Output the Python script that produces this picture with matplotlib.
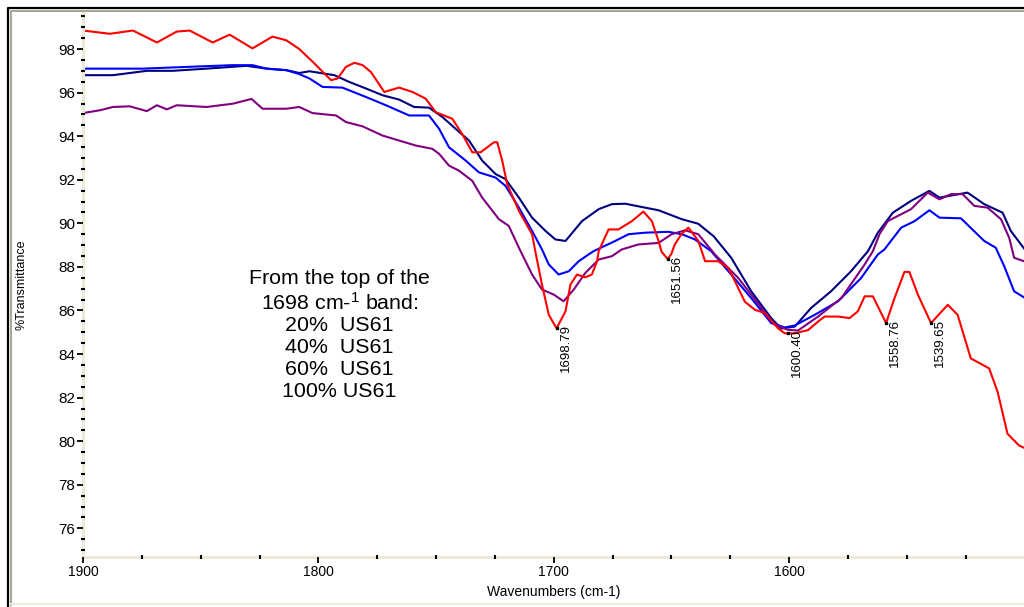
import numpy as np
import matplotlib.pyplot as plt
from matplotlib.ticker import MultipleLocator
from matplotlib.lines import Line2D

plt.rcParams['font.family'] = 'Liberation Sans'
plt.rcParams['mathtext.fontset'] = 'custom'
plt.rcParams['mathtext.rm'] = 'Liberation Sans'
plt.rcParams['mathtext.it'] = 'Liberation Sans:italic'

# spectra: wavenumber (cm-1) and %T
navy_wn = [1900, 1887.3, 1872.9, 1861.9, 1847.5, 1830.5, 1822.0, 1813.6, 1808.1, 1803.8,
           1793.2, 1786.9, 1779.8, 1772.8, 1765.7, 1759.3, 1753.0, 1747.3, 1741.7, 1736.0,
           1730.4, 1724.7, 1720.5, 1714.8, 1709.2, 1703.5, 1699.3, 1695.0, 1688.0, 1680.9,
           1675.3, 1669.6, 1661.2, 1655.5, 1645.6, 1638.6, 1632.0, 1624.6, 1616.1, 1607.6,
           1603.4, 1597.6, 1590.7, 1582.2, 1573.7, 1566.5, 1562.3, 1555.9, 1548.2, 1540.4,
           1536.1, 1524.2, 1517.1, 1509.3, 1505.8, 1500.2]
navy_t = [96.8, 96.8, 97.0, 97.0, 97.1, 97.23, 97.1, 97.03, 96.9, 96.98,
          96.8, 96.49, 96.19, 95.88, 95.68, 95.34, 95.31, 94.88, 94.34, 93.8,
          92.88, 92.26, 92.03, 91.18, 90.26, 89.65, 89.26, 89.19, 90.1, 90.65,
          90.88, 90.9, 90.72, 90.6, 90.19, 89.98, 89.4, 88.42, 86.88, 85.65,
          85.17, 85.26, 86.11, 86.88, 87.8, 88.72, 89.57, 90.49, 91.03, 91.49,
          91.18, 91.41, 90.88, 90.49, 89.65, 88.85]

blue_wn = [1900, 1874.6, 1855.9, 1836.4, 1828.0, 1822.0, 1813.6, 1808.1, 1803.8, 1798.2,
           1789.8, 1779.8, 1771.3, 1761.4, 1753.0, 1748.7, 1744.5, 1737.4, 1731.8, 1724.7,
           1720.5, 1714.8, 1709.2, 1705.0, 1702.1, 1697.9, 1693.6, 1689.4, 1685.2, 1683.1,
           1673.9, 1668.2, 1661.2, 1651.3, 1645.6, 1640.0, 1633.1, 1624.6, 1616.1, 1607.6,
           1601.8, 1597.6, 1589.1, 1579.2, 1569.4, 1562.3, 1559.5, 1552.4, 1546.7, 1540.4,
           1536.1, 1527.0, 1517.1, 1512.2, 1508.6, 1504.4, 1500.2]
blue_t = [97.1, 97.1, 97.18, 97.26, 97.26, 97.1, 97.03, 96.85, 96.65, 96.26,
          96.23, 95.8, 95.42, 94.95, 94.95, 94.34, 93.49, 92.88, 92.34, 92.1,
          91.72, 90.72, 89.65, 88.8, 88.11, 87.65, 87.8, 88.26, 88.57, 88.72,
          89.19, 89.5, 89.57, 89.61, 89.5, 89.26, 88.72, 87.65, 86.57, 85.42,
          85.22, 85.31, 85.8, 86.42, 87.49, 88.57, 88.8, 89.8, 90.1, 90.6,
          90.26, 90.23, 89.19, 88.88, 88.03, 86.88, 86.6]

purple_wn = [1900, 1892.8, 1887.3, 1880.1, 1872.9, 1868.6, 1864.4, 1860.2, 1847.5, 1836.4,
             1828.4, 1823.7, 1813.6, 1808.1, 1802.5, 1792.5, 1788.3, 1781.2, 1772.8, 1765.7,
             1758.6, 1751.6, 1748.7, 1744.5, 1740.3, 1734.6, 1730.4, 1723.3, 1719.1, 1714.8,
             1709.2, 1705.0, 1700.0, 1695.8, 1691.5, 1686.6, 1680.9, 1675.3, 1671.1, 1664.0,
             1655.5, 1649.9, 1644.2, 1638.6, 1631.5, 1621.6, 1611.7, 1606.1, 1600.4, 1596.2,
             1587.7, 1577.8, 1567.9, 1564.4, 1561.6, 1558.1, 1548.2, 1541.1, 1536.1, 1531.2,
             1526.3, 1521.3, 1515.7, 1510.0, 1506.5, 1504.4, 1500.2]
purple_t = [95.06, 95.19, 95.34, 95.37, 95.15, 95.42, 95.23, 95.42, 95.34, 95.49,
            95.71, 95.26, 95.26, 95.34, 95.06, 94.95, 94.65, 94.45, 94.03, 93.8,
            93.57, 93.42, 93.19, 92.65, 92.42, 91.95, 91.18, 90.19, 89.88, 88.88,
            87.65, 86.96, 86.73, 86.42, 86.96, 87.72, 88.34, 88.49, 88.8, 89.03,
            89.1, 89.5, 89.68, 89.5, 88.57, 87.49, 86.11, 85.34, 85.11, 85.08,
            85.72, 86.57, 88.11, 88.72, 89.5, 90.1, 90.65, 91.41, 91.1, 91.34,
            91.34, 90.8, 90.72, 90.19, 89.34, 88.42, 88.26]

red_wn = [1900, 1888.6, 1878.8, 1868.6, 1860.2, 1854.7, 1844.9, 1837.7, 1828.0, 1819.5,
          1813.6, 1808.1, 1801.7, 1797.5, 1794.6, 1791.8, 1788.3, 1784.7, 1781.2, 1777.7,
          1772.0, 1765.7, 1760.0, 1754.4, 1750.1, 1743.1, 1738.9, 1734.6, 1731.1, 1725.4,
          1724.0, 1721.9, 1719.8, 1714.8, 1709.2, 1707.8, 1705.0, 1702.1, 1698.8, 1695.0,
          1692.9, 1690.1, 1686.6, 1683.8, 1681.6, 1680.9, 1676.7, 1672.5, 1666.8, 1661.9,
          1658.3, 1655.5, 1654.2, 1651.6, 1650.0, 1648.7, 1645.8, 1642.8, 1638.6, 1635.7,
          1630.1, 1625.8, 1623.0, 1618.8, 1614.5, 1610.3, 1604.7, 1601.8, 1597.6, 1591.9,
          1587.7, 1584.9, 1579.2, 1574.3, 1570.8, 1567.9, 1564.4, 1558.8, 1555.2, 1551.0,
          1548.9, 1545.3, 1539.7, 1532.6, 1528.4, 1522.8, 1515.0, 1511.4, 1507.2, 1502.3,
          1500.2]
red_t = [98.85, 98.7, 98.85, 98.3, 98.8, 98.85, 98.3, 98.66, 98.03, 98.57,
         98.4, 98.0, 97.34, 96.88, 96.57, 96.65, 97.18, 97.37, 97.26, 96.95,
         96.03, 96.23, 96.03, 95.72, 95.1, 94.8, 94.1, 93.26, 93.26, 93.72,
         93.72, 92.88, 91.8, 90.57, 89.5, 88.7, 87.19, 85.8, 85.18, 85.96,
         87.19, 87.65, 87.52, 87.65, 88.26, 88.72, 89.72, 89.72, 90.1, 90.54,
         90.1, 89.2, 88.7, 88.36, 88.6, 89.0, 89.5, 89.8, 89.2, 88.26,
         88.26, 87.95, 87.34, 86.4, 86.03, 85.88, 85.18, 84.95, 84.95, 85.1,
         85.49, 85.72, 85.72, 85.65, 85.96, 86.65, 86.65, 85.42, 86.57, 87.77,
         87.77, 86.73, 85.42, 86.26, 85.8, 83.8, 83.34, 82.26, 80.34, 79.8,
         79.7]

# peaks marked on the 100% spectrum
peaks = [1698.79, 1651.56, 1600.40, 1558.76, 1539.65]

series = [
    (navy_wn, navy_t, '#000080'),   # 20% US61
    (blue_wn, blue_t, '#0000FF'),   # 40% US61
    (purple_wn, purple_t, '#800080'),  # 60% US61
    (red_wn, red_t, '#FF0000'),     # 100% US61
]

W, H = 1024, 607
fig = plt.figure(figsize=(W / 100, H / 100), dpi=100)
ax = fig.add_axes([83 / W, (H - 557.3) / H, (W - 83) / W, (557.3 - 12) / H])

for wn, t, c in series:
    ax.plot(wn, t, color=c, lw=1.5, zorder=2)

# peak picks
red_x = np.array(red_wn)[::-1]
red_y = np.array(red_t)[::-1]
for p in peaks:
    y = np.interp(p, red_x, red_y)
    ax.plot(p, y, marker='s', ms=1.8, color='black', zorder=3)
    ax.annotate(f'{p:.2f}', xy=(p, y), xytext=(6.5, 3), textcoords='offset points',
                rotation=90, ha='center', va='top', fontsize=9.5)

ax.text(1791, 84.87,
        "From the top of the\n1698 cm-$^{1}$ band:\n20%  US61\n40%  US61\n60%  US61\n100% US61",
        ha='center', va='center', multialignment='center', fontsize=15.4, linespacing=1.2)

ax.set_xlim(1900, 1500.2)
ax.set_ylim(74.67, 99.7)

ax.xaxis.set_major_locator(MultipleLocator(100))
ax.xaxis.set_minor_locator(MultipleLocator(25))
ax.yaxis.set_major_locator(MultipleLocator(2))
ax.yaxis.set_minor_locator(MultipleLocator(0.5))

# axis styling like the spectrometer software
ax.spines['top'].set_visible(False)
ax.spines['right'].set_visible(False)
for s in ['left', 'bottom']:
    ax.spines[s].set_color('#ECE9D8')
    ax.spines[s].set_linewidth(2.2)
    ax.spines[s].set_zorder(2.2)
ax.set_axisbelow(False)
ax.tick_params(which='major', direction='out', length=4, width=1.3, color='black',
               labelsize=10, pad=1.5)
ax.tick_params(axis='y', which='major', labelsize=11)
ax.tick_params(which='minor', direction='inout', length=2.2, width=1.5, color='black')

ax.set_xlabel('Wavenumbers (cm-1)', fontsize=10, va='center')
ax.xaxis.set_label_coords(0.5, -(592 - 557.3) / 545.3)
ax.set_ylabel('%Transmittance', fontsize=9, va='center')
ax.yaxis.set_label_coords((21.7 - 83) / 941, 0.5)

# window frame
fig.add_artist(Line2D([7.5 / W, 7.5 / W, 1], [0, 1 - 7.5 / H, 1 - 7.5 / H],
                      transform=fig.transFigure, color='black', lw=1.6))
fig.add_artist(Line2D([10.5 / W, 10.5 / W, 1], [2 / H, 1 - 10.5 / H, 1 - 10.5 / H],
                      transform=fig.transFigure, color='#ACA899', lw=1.5))
fig.add_artist(Line2D([10.5 / W, 1], [1 - 603.5 / H, 1 - 603.5 / H],
                      transform=fig.transFigure, color='#ECE9D8', lw=1.5))

fig.savefig('out.png', dpi=100)
